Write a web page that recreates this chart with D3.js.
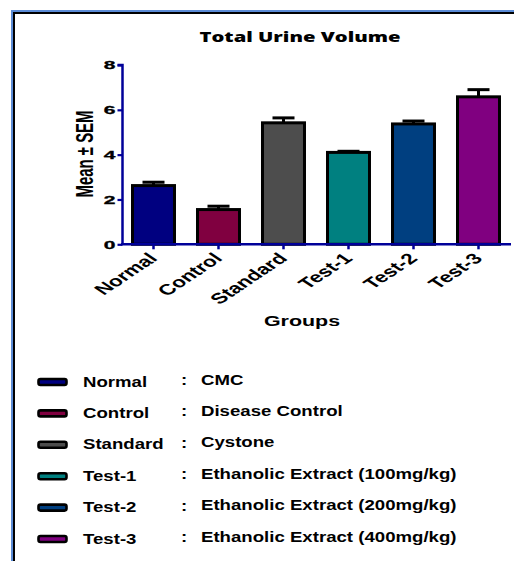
<!DOCTYPE html>
<html>
<head>
<meta charset="utf-8">
<script src="https://cdn.jsdelivr.net/npm/d3@7"></script>
<style>
  html, body { margin: 0; padding: 0; background: #fff; }
  svg { display: block; }
  text { font-family: "Liberation Sans", Arial, sans-serif; font-weight: bold; fill: #000; }
</style>
</head>
<body>
<svg id="chart" width="514" height="561"></svg>
<script>
// Total urine volume per treatment group (mean and SEM)
const groups = ["Normal", "Control", "Standard", "Test-1", "Test-2", "Test-3"];
const means  = [2.62, 1.55, 5.42, 4.10, 5.37, 6.58];
const sems   = [0.15, 0.15, 0.22, 0.05, 0.13, 0.32];
const colors = ["#000080", "#800040", "#4d4d4d", "#008080", "#003f80", "#800080"];
const descriptions = ["CMC", "Disease Control", "Cystone",
  "Ethanolic Extract (100mg/kg)", "Ethanolic Extract (200mg/kg)", "Ethanolic Extract (400mg/kg)"];
const yTicks = [0, 2, 4, 6, 8];

const title = "Total Urine Volume";
const yTitle = "Mean \u00B1 SEM";
const xTitle = "Groups";

const svg = d3.select("#chart");
const axisColor = "#000099";

// frame: blue outer line, black inner line on left and top
svg.append("path").attr("d", "M12,561 V11 H514")
  .attr("fill", "none").attr("stroke", "#5b8bd5").attr("stroke-width", 2);
svg.append("path").attr("d", "M14,561 V13 H514")
  .attr("fill", "none").attr("stroke", "#000").attr("stroke-width", 2);

const x = d3.scaleBand().domain(groups).range([121, 511]).paddingInner(0.354).paddingOuter(0.177);
const y = d3.scaleLinear().domain([0, 8]).range([244.3, 65]);

// helper: place a text with horizontal stretch
function stretchText(g, px, py, sx, rot) {
  return g.attr("transform", `translate(${px},${py}) scale(${sx},1)` + (rot ? ` rotate(${rot})` : ""));
}

// title
svg.append("text").text(title)
  .attr("x", 300).attr("y", 42)
  .attr("text-anchor", "middle")
  .style("font-family", "'Open Sans', sans-serif")
  .style("font-weight", "800")
  .style("font-size", "14px")
  .attr("textLength", 201).attr("lengthAdjust", "spacingAndGlyphs");

// y axis
const yAxis = svg.append("g").attr("transform", `translate(${x.range()[0] + 1.5},0)`)
  .call(d3.axisLeft(y).tickValues(yTicks).tickSize(5).tickPadding(4).tickFormat(d3.format("d")));
yAxis.select(".domain").attr("stroke", axisColor).attr("stroke-width", 2.5)
  .attr("d", `M0,${y(0)}V${y(8)}H-5`);
yAxis.selectAll(".tick line").attr("stroke", axisColor).attr("stroke-width", 2.2);
yAxis.selectAll(".tick text").each(function () {
  d3.select(this).attr("x", null).attr("dy", null)
    .attr("text-anchor", "end")
    .style("font-size", "10.5px")
    .style("stroke", "#000").style("stroke-width", 0.3)
    .attr("transform", "translate(-7,3.8) scale(2,1)");
});

// y axis title
stretchText(svg.append("text").text(yTitle), 93, 154, 1.4, -90)
  .attr("text-anchor", "middle")
  .style("font-family", "'Liberation Sans Narrow', 'Liberation Sans', Arial, sans-serif")
  .style("font-size", "17px")
  .attr("textLength", 87).attr("lengthAdjust", "spacingAndGlyphs");

// error bars (upper whisker only, drawn before bars)
const err = svg.append("g").selectAll("g").data(groups).join("g");
err.append("line")
  .attr("x1", d => x(d) + x.bandwidth() / 2).attr("x2", d => x(d) + x.bandwidth() / 2)
  .attr("y1", (d, i) => y(means[i])).attr("y2", (d, i) => y(means[i] + sems[i]))
  .attr("stroke", "#000").attr("stroke-width", 3);
err.append("line")
  .attr("x1", d => x(d) + x.bandwidth() / 2 - 11).attr("x2", d => x(d) + x.bandwidth() / 2 + 11)
  .attr("y1", (d, i) => y(means[i] + sems[i])).attr("y2", (d, i) => y(means[i] + sems[i]))
  .attr("stroke", "#000").attr("stroke-width", 3);

// bars
svg.append("g").selectAll("rect").data(groups).join("rect")
  .attr("x", d => x(d))
  .attr("width", x.bandwidth())
  .attr("y", (d, i) => y(means[i]))
  .attr("height", (d, i) => y(0) - y(means[i]))
  .attr("fill", (d, i) => colors[i])
  .attr("stroke", "#000").attr("stroke-width", 3);

// x axis
const xAxis = svg.append("g").attr("transform", `translate(0,${y(0)})`)
  .call(d3.axisBottom(x).tickSize(5).tickFormat(""));
xAxis.select(".domain").attr("stroke", axisColor).attr("stroke-width", 2.5)
  .attr("d", `M${x.range()[0]},0H${x.range()[1]}`);
xAxis.selectAll(".tick line").attr("stroke", axisColor).attr("stroke-width", 2.5);

// rotated category labels
svg.append("g").selectAll("text").data(groups).join("text")
  .text(d => d)
  .attr("text-anchor", "end")
  .style("font-size", "15px")
  .attr("transform", d => `translate(${x(d) + x.bandwidth() / 2 + 5},${y(0) + 15}) scale(1.5,1) rotate(-45)`);

// x axis title
stretchText(svg.append("text").text(xTitle), 302, 326, 1.43, 0)
  .attr("text-anchor", "middle")
  .style("font-size", "15px");

// legend
const ly = d3.scalePoint().domain(groups).range([382, 539]);
const leg = svg.append("g").selectAll("g").data(groups).join("g");
leg.append("rect")
  .attr("x", 38.5).attr("y", d => ly(d) - 3)
  .attr("width", 28).attr("height", 6).attr("rx", 2)
  .attr("fill", (d, i) => colors[i])
  .attr("stroke", "#000").attr("stroke-width", 2.6);
leg.append("text").text(d => d)
  .style("font-size", "14px")
  .attr("transform", d => `translate(83,${ly(d) + 4.5}) scale(1.33,1)`);
leg.append("text").text(":")
  .style("font-size", "14px")
  .attr("transform", d => `translate(181,${ly(d) + 3}) scale(1.33,1)`);
leg.append("text").text((d, i) => descriptions[i])
  .style("font-size", "14px")
  .attr("transform", d => `translate(201,${ly(d) + 2.5}) scale(1.33,1)`);
</script>
</body>
</html>
